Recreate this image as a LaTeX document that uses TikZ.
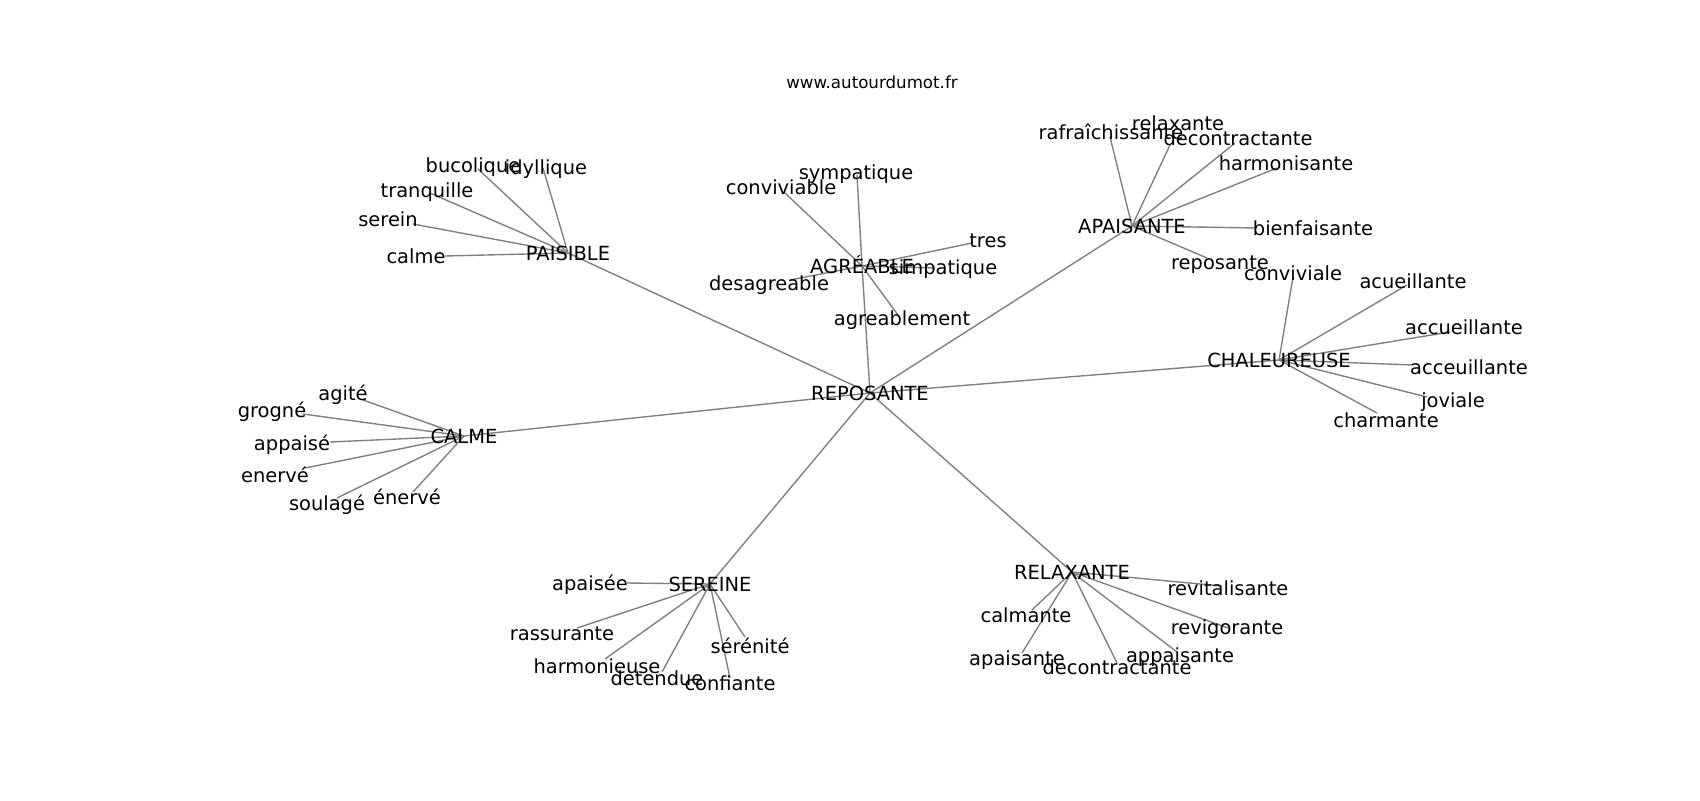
\documentclass[tikz,border=0pt]{standalone}
\usepackage{fontspec}
\setmainfont{DejaVu Sans}
\usepackage{tikz}
\usetikzlibrary{backgrounds}

\tikzset{
  word/.style={inner sep=0pt, text height=12.08pt, text depth=1.47pt, font=\fontsize{14}{16}\selectfont},
  link/.style={draw=black!50, line width=1pt}
}

\begin{document}
\begin{tikzpicture}[x=0.72pt,y=-0.72pt]
\useasboundingbox (0,0) rectangle (1700,800);
\node[anchor=base, inner sep=0pt, font=\fontsize{12}{14}\selectfont] (title) at (872,88) {www.autourdumot.fr};

\node[word] (repo) at (870,393) {REPOSANTE};
\node[word] (paisible) at (568,253) {PAISIBLE};
\node[word] (agreable) at (862,266) {AGRÉABLE};
\node[word] (apaisante) at (1132,226) {APAISANTE};
\node[word] (chaleureuse) at (1279,360) {CHALEUREUSE};
\node[word] (calme) at (464,436) {CALME};
\node[word] (sereine) at (710,584) {SEREINE};
\node[word] (relaxante) at (1072,572) {RELAXANTE};

\node[word] (p-bucolique) at (473,165) {bucolique}; \coordinate (p-bucolique-end) at (478,169);
\node[word] (p-idyllique) at (546,167) {idyllique}; \coordinate (p-idyllique-end) at (543,168);
\node[word] (p-tranquille) at (427,190) {tranquille}; \coordinate (p-tranquille-end) at (430,193);
\node[word] (p-serein) at (388,219) {serein}; \coordinate (p-serein-end) at (413,224);
\node[word] (p-calme) at (416,256) {calme}; \coordinate (p-calme-end) at (445,256);

\node[word] (a-sympatique) at (856,172) {sympatique}; \coordinate (a-sympatique-end) at (857,175);
\node[word] (a-conviviable) at (781,187) {conviviable}; \coordinate (a-conviviable-end) at (785,193);
\node[word] (a-tres) at (988,240) {tres}; \coordinate (a-tres-end) at (972,243);
\node[word] (a-simpatique) at (943,267) {simpatique}; \coordinate (a-simpatique-end) at (935,268);
\node[word] (a-desagreable) at (769,283) {desagreable}; \coordinate (a-desagreable-end) at (790,280);
\node[word] (a-agreablement) at (902,318) {agreablement}; \coordinate (a-agreablement-end) at (898,315);

\node[word] (ap-rafraichissante) at (1111,132) {rafraîchissante}; \coordinate (ap-rafraichissante-end) at (1110,137);
\node[word] (ap-relaxante) at (1178,123) {relaxante}; \coordinate (ap-relaxante-end) at (1170,145);
\node[word] (ap-decontractante) at (1238,138) {decontractante}; \coordinate (ap-decontractante-end) at (1235,143);
\node[word] (ap-harmonisante) at (1286,163) {harmonisante}; \coordinate (ap-harmonisante-end) at (1277,168);
\node[word] (ap-bienfaisante) at (1313,228) {bienfaisante}; \coordinate (ap-bienfaisante-end) at (1257,228);
\node[word] (ap-reposante) at (1220,262) {reposante}; \coordinate (ap-reposante-end) at (1207,258);

\node[word] (c-conviviale) at (1293,273) {conviviale}; \coordinate (c-conviviale-end) at (1293,277);
\node[word] (c-acueillante) at (1413,281) {acueillante}; \coordinate (c-acueillante-end) at (1407,285);
\node[word] (c-accueillante) at (1464,327) {accueillante}; \coordinate (c-accueillante-end) at (1450,332);
\node[word] (c-acceuillante) at (1469,367) {acceuillante}; \coordinate (c-acceuillante-end) at (1413,365);
\node[word] (c-joviale) at (1453,400) {joviale}; \coordinate (c-joviale-end) at (1427,397);
\node[word] (c-charmante) at (1386,420) {charmante}; \coordinate (c-charmante-end) at (1377,413);

\node[word] (k-agite) at (343,393) {agité}; \coordinate (k-agite-end) at (363,400);
\node[word] (k-grogne) at (272,410) {grogné}; \coordinate (k-grogne-end) at (303,414);
\node[word] (k-appaise) at (292,443) {appaisé}; \coordinate (k-appaise-end) at (330,442);
\node[word] (k-enerve) at (275,475) {enervé}; \coordinate (k-enerve-end) at (305,468);
\node[word] (k-soulage) at (327,503) {soulagé}; \coordinate (k-soulage-end) at (337,498);
\node[word] (k-enerve2) at (407,497) {énervé}; \coordinate (k-enerve2-end) at (413,492);

\node[word] (s-apaisee) at (590,583) {apaisée}; \coordinate (s-apaisee-end) at (627,583);
\node[word] (s-rassurante) at (562,633) {rassurante}; \coordinate (s-rassurante-end) at (577,628);
\node[word] (s-harmonieuse) at (597,666) {harmonieuse}; \coordinate (s-harmonieuse-end) at (605,659);
\node[word] (s-detendue) at (657,678) {detendue}; \coordinate (s-detendue-end) at (662,672);
\node[word] (s-serenite) at (750,646) {sérénité}; \coordinate (s-serenite-end) at (745,637);
\node[word] (s-confiante) at (730,683) {confiante}; \coordinate (s-confiante-end) at (730,678);

\node[word] (r-revitalisante) at (1228,588) {revitalisante}; \coordinate (r-revitalisante-end) at (1222,586);
\node[word] (r-revigorante) at (1227,627) {revigorante}; \coordinate (r-revigorante-end) at (1228,628);
\node[word] (r-calmante) at (1026,615) {calmante}; \coordinate (r-calmante-end) at (1032,610);
\node[word] (r-apaisante) at (1017,658) {apaisante}; \coordinate (r-apaisante-end) at (1022,653);
\node[word] (r-decontractante) at (1117,667) {decontractante}; \coordinate (r-decontractante-end) at (1117,663);
\node[word] (r-appaisante) at (1180,655) {appaisante}; \coordinate (r-appaisante-end) at (1177,652);

\begin{scope}[on background layer]
\draw[link] (repo.center) -- (paisible.center);
\draw[link] (repo.center) -- (agreable.center);
\draw[link] (repo.center) -- (apaisante.center);
\draw[link] (repo.center) -- (chaleureuse.center);
\draw[link] (repo.center) -- (calme.center);
\draw[link] (repo.center) -- (sereine.center);
\draw[link] (repo.center) -- (relaxante.center);

\draw[link] (paisible.center) -- (p-bucolique-end);
\draw[link] (paisible.center) -- (p-idyllique-end);
\draw[link] (paisible.center) -- (p-tranquille-end);
\draw[link] (paisible.center) -- (p-serein-end);
\draw[link] (paisible.center) -- (p-calme-end);

\draw[link] (agreable.center) -- (a-sympatique-end);
\draw[link] (agreable.center) -- (a-conviviable-end);
\draw[link] (agreable.center) -- (a-tres-end);
\draw[link] (agreable.center) -- (a-simpatique-end);
\draw[link] (agreable.center) -- (a-desagreable-end);
\draw[link] (agreable.center) -- (a-agreablement-end);

\draw[link] (apaisante.center) -- (ap-rafraichissante-end);
\draw[link] (apaisante.center) -- (ap-relaxante-end);
\draw[link] (apaisante.center) -- (ap-decontractante-end);
\draw[link] (apaisante.center) -- (ap-harmonisante-end);
\draw[link] (apaisante.center) -- (ap-bienfaisante-end);
\draw[link] (apaisante.center) -- (ap-reposante-end);

\draw[link] (chaleureuse.center) -- (c-conviviale-end);
\draw[link] (chaleureuse.center) -- (c-acueillante-end);
\draw[link] (chaleureuse.center) -- (c-accueillante-end);
\draw[link] (chaleureuse.center) -- (c-acceuillante-end);
\draw[link] (chaleureuse.center) -- (c-joviale-end);
\draw[link] (chaleureuse.center) -- (c-charmante-end);

\draw[link] (calme.center) -- (k-agite-end);
\draw[link] (calme.center) -- (k-grogne-end);
\draw[link] (calme.center) -- (k-appaise-end);
\draw[link] (calme.center) -- (k-enerve-end);
\draw[link] (calme.center) -- (k-soulage-end);
\draw[link] (calme.center) -- (k-enerve2-end);

\draw[link] (sereine.center) -- (s-apaisee-end);
\draw[link] (sereine.center) -- (s-rassurante-end);
\draw[link] (sereine.center) -- (s-harmonieuse-end);
\draw[link] (sereine.center) -- (s-detendue-end);
\draw[link] (sereine.center) -- (s-serenite-end);
\draw[link] (sereine.center) -- (s-confiante-end);

\draw[link] (relaxante.center) -- (r-revitalisante-end);
\draw[link] (relaxante.center) -- (r-revigorante-end);
\draw[link] (relaxante.center) -- (r-calmante-end);
\draw[link] (relaxante.center) -- (r-apaisante-end);
\draw[link] (relaxante.center) -- (r-decontractante-end);
\draw[link] (relaxante.center) -- (r-appaisante-end);
\end{scope}
\end{tikzpicture}
\end{document}
